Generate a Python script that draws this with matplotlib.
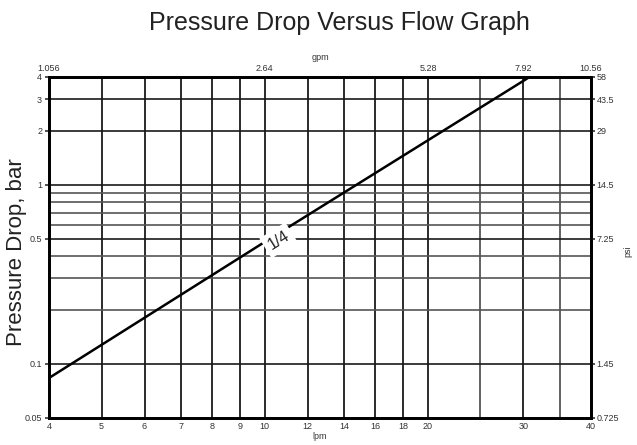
import numpy as np
import matplotlib
matplotlib.use('Agg')
from matplotlib import pyplot as plt

plt.rcParams['font.family'] = ['Liberation Sans', 'DejaVu Sans']

# 1/4 valve curve, flow (lpm) vs pressure drop (bar)
flow_lpm = [4, 10, 31]
drop_bar = [0.0835, 0.48, 4.05]

# grid lines
x_grid = [5, 6, 7, 8, 9, 10, 12, 14, 16, 18, 20, 25, 30, 35]
y_grid = [0.1, 0.2, 0.3, 0.4, 0.5, 0.6, 0.7, 0.8, 0.9, 1, 2, 3]

# labelled ticks
x_ticks = [4, 5, 6, 7, 8, 9, 10, 12, 14, 16, 18, 20, 30, 40]
y_ticks = [0.05, 0.1, 0.5, 1, 2, 3, 4]
y_labels = ['0.05', '0.1', '0.5', '1', '2', '3', '4']
gpm_pos = [4, 10, 20, 30, 40]
gpm_labels = ['1.056', '2.64', '5.28', '7.92', '10.56']
psi_labels = ['0.725', '1.45', '7.25', '14.5', '29', '43.5', '58']

fig = plt.figure(figsize=(6.37, 4.45), dpi=100)
ax = fig.add_axes([0.077, 0.061, 0.851, 0.766])
ax.set_xscale('log')
ax.set_yscale('log')
ax.set_xlim(4, 40)
ax.set_ylim(0.05, 4)

dark = [5, 6, 7, 8, 9, 10, 12, 14, 16, 18, 20, 30]
for x in x_grid:
    ax.axvline(x, color='#1a1a1a' if x in dark else '#555555', lw=1.3, zorder=1)
for y in y_grid:
    ax.axhline(y, color='#1a1a1a' if y in y_ticks else '#555555', lw=1.2, zorder=1)

ax.plot(flow_lpm, drop_bar, color='black', lw=1.8, zorder=3)
ax.text(10.6, 0.49, '1/4', rotation=32, ha='center', va='center', fontsize=11.5,
        color='#222222', bbox=dict(facecolor='white', edgecolor='none', pad=3), zorder=4)

for s in ax.spines.values():
    s.set_linewidth(1.8)

ax.minorticks_off()
ax.set_xticks(x_ticks)
ax.set_xticklabels([str(v) for v in x_ticks])
ax.set_yticks(y_ticks)
ax.set_yticklabels(y_labels)
ax.tick_params(axis='x', length=0, labelsize=6.5, pad=3, colors='#333333')
ax.tick_params(axis='y', length=3, width=1.2, labelsize=6.5, pad=2, colors='#333333')
ax.set_xlabel('lpm', fontsize=6.5, color='#333333', labelpad=1)
ax.set_ylabel('Pressure Drop, bar', fontsize=16, color='#222222')
ax.yaxis.set_label_coords(-0.04, 0.485)

top = ax.twiny()
top.set_xscale('log')
top.set_xlim(4, 40)
top.minorticks_off()
top.set_xticks(gpm_pos)
top.set_xticklabels(gpm_labels)
top.tick_params(axis='x', length=0, labelsize=6.5, pad=3, colors='#333333')
top.set_xlabel('gpm', fontsize=6.5, color='#333333', labelpad=3)

right = ax.twinx()
right.set_yscale('log')
right.set_ylim(0.05, 4)
right.minorticks_off()
right.set_yticks(y_ticks)
right.set_yticklabels(psi_labels)
right.tick_params(axis='y', length=3, width=1.2, labelsize=6.5, pad=1, colors='#333333')
right.set_ylabel('psi', fontsize=6.5, color='#333333')
right.yaxis.set_label_coords(1.059, 0.49)
for a in (top, right):
    for s in a.spines.values():
        s.set_linewidth(1.8)

fig.suptitle('Pressure Drop Versus Flow Graph', fontsize=18, y=0.975, x=0.533,
             color='#222222')
fig.savefig('out.png', dpi=100)
